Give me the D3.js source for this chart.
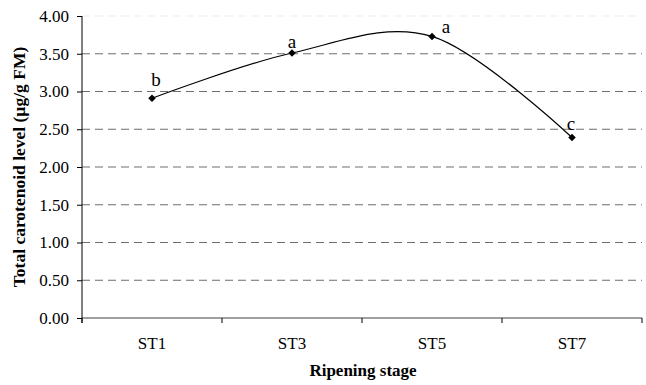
<!DOCTYPE html>
<html>
<head>
<meta charset="utf-8">
<script src="https://cdn.jsdelivr.net/npm/d3@7"></script>
<style>
  body { margin: 0; background: #fff; }
  text { font-family: "Liberation Serif", "Times New Roman", serif; }
</style>
</head>
<body>
<svg id="chart" width="646" height="385"></svg>
<script>
// data
var stages = ["ST1", "ST3", "ST5", "ST7"];
var carotenoid = [2.91, 3.51, 3.73, 2.39];
var letters = ["b", "a", "a", "c"];
var yTicks = [0, 0.5, 1, 1.5, 2, 2.5, 3, 3.5, 4];

// where each letter sits relative to its marker (px)
var letterOffsets = [[4, -12], [0, -5], [14, -3], [-1, -8]];

var svg = d3.select("#chart");
var plotLeft = 82, plotRight = 642, plotTop = 16, plotBottom = 318;

var x = d3.scaleBand().domain(stages).range([plotLeft, plotRight]);
var y = d3.scaleLinear().domain([0, 4]).range([plotBottom, plotTop]);

function cx(s) { return x(s) + x.bandwidth() / 2; }

// gridlines
svg.selectAll("line.grid")
    .data(yTicks.filter(function(d) { return d > 0; }))
    .enter().append("line")
    .attr("class", "grid")
    .attr("x1", plotLeft).attr("x2", plotRight)
    .attr("y1", function(d) { return y(d); })
    .attr("y2", function(d) { return y(d); })
    .attr("stroke", function(d) { return d == 4 ? "#ececec" : "#6e6e6e"; })
    .attr("stroke-width", 1.2)
    .attr("stroke-dasharray", "8,5");

// x axis: gray line, ticks at the band edges
svg.append("line")
    .attr("x1", plotLeft).attr("x2", plotRight)
    .attr("y1", plotBottom).attr("y2", plotBottom)
    .attr("stroke", "#808080").attr("stroke-width", 1.5);
var edges = stages.map(function(s) { return x(s); }).concat([plotRight]);
svg.selectAll("line.xtick")
    .data(edges)
    .enter().append("line")
    .attr("class", "xtick")
    .attr("x1", function(d) { return d; }).attr("x2", function(d) { return d; })
    .attr("y1", plotBottom).attr("y2", plotBottom + 5)
    .attr("stroke", "#000");
svg.selectAll("text.xlab")
    .data(stages)
    .enter().append("text")
    .attr("class", "xlab")
    .attr("x", cx)
    .attr("y", 349)
    .attr("text-anchor", "middle")
    .style("font-size", "17px")
    .text(function(d) { return d; });

// y axis
var yAxis = svg.append("g")
    .attr("transform", "translate(" + plotLeft + ",0)")
    .call(d3.axisLeft(y).tickValues(yTicks).tickFormat(d3.format(".2f")).tickSize(5).tickPadding(8));
yAxis.select(".domain").remove();
yAxis.selectAll("text")
    .style("font-family", "Liberation Serif, serif")
    .style("font-size", "17px")
    .attr("fill", "#000");
svg.append("line")
    .attr("x1", plotLeft).attr("x2", plotLeft)
    .attr("y1", plotTop).attr("y2", plotBottom + 5)
    .attr("stroke", "#000");

// axis titles
svg.append("text")
    .attr("transform", "translate(25,167) rotate(-90)")
    .attr("text-anchor", "middle")
    .style("font-size", "17.5px")
    .style("font-weight", "bold")
    .text("Total carotenoid level (µg/g FM)");
svg.append("text")
    .attr("x", 363).attr("y", 376)
    .attr("text-anchor", "middle")
    .style("font-size", "17px")
    .style("font-weight", "bold")
    .text("Ripening stage");

// smoothed series
var pts = stages.map(function(s, i) {
    return { s: s, v: carotenoid[i], l: letters[i], o: letterOffsets[i] };
});
var line = d3.line()
    .x(function(d) { return cx(d.s); })
    .y(function(d) { return y(d.v); })
    .curve(d3.curveCatmullRom.alpha(0));
svg.append("path")
    .datum(pts)
    .attr("d", line)
    .attr("fill", "none")
    .attr("stroke", "#000")
    .attr("stroke-width", 1.2);

svg.selectAll("path.marker")
    .data(pts)
    .enter().append("path")
    .attr("class", "marker")
    .attr("d", d3.symbol().type(d3.symbolDiamond2).size(36))
    .attr("transform", function(d) {
        return "translate(" + cx(d.s) + "," + y(d.v) + ")";
    })
    .attr("fill", "#000");

svg.selectAll("text.sig")
    .data(pts)
    .enter().append("text")
    .attr("class", "sig")
    .attr("x", function(d) { return cx(d.s) + d.o[0]; })
    .attr("y", function(d) { return y(d.v) + d.o[1]; })
    .attr("text-anchor", "middle")
    .style("font-size", "19px")
    .text(function(d) { return d.l; });
</script>
</body>
</html>
